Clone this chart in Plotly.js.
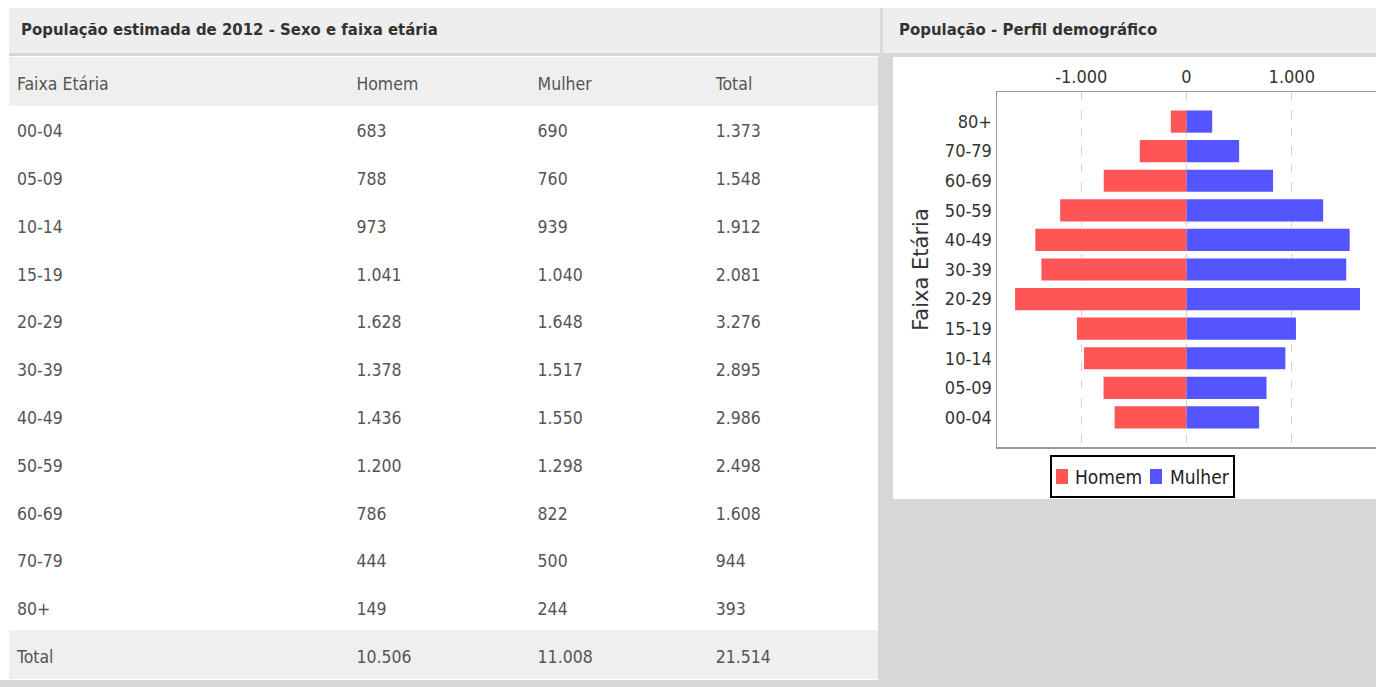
<!DOCTYPE html>
<html lang="pt-BR">
<head>
<meta charset="utf-8">
<title>População estimada de 2012 - Sexo e faixa etária</title>
<script src="https://cdn.plot.ly/plotly-3.0.1.min.js"></script>
<style>
  html, body { margin: 0; padding: 0; background: #ffffff; }
  #painel { width: 1376px; height: 687px; }
</style>
</head>
<body>
<div id="painel"></div>
<script>
// Faixas etárias (de baixo para cima na pirâmide)
const AGE_GROUPS = ['00-04', '05-09', '10-14', '15-19', '20-29', '30-39', '40-49', '50-59', '60-69', '70-79', '80+'];
// População por sexo
const HOMEM = [683, 788, 973, 1041, 1628, 1378, 1436, 1200, 786, 444, 149];
const MULHER = [690, 760, 939, 1040, 1648, 1517, 1550, 1298, 822, 500, 244];
const TOTAL = [1373, 1548, 1912, 2081, 3276, 2895, 2986, 2498, 1608, 944, 393];
// Linha de totais da tabela
const TOTAL_ROW_LABEL = 'Total';
const TOTAL_HOMEM = 10506;
const TOTAL_MULHER = 11008;
const TOTAL_GERAL = 21514;
// Cabeçalhos
const TABLE_HEADERS = ['Faixa Etária', 'Homem', 'Mulher', 'Total'];
const SERIES_NAMES = ['Homem', 'Mulher'];
// Eixo horizontal da pirâmide
const TICK_VALUES = [-1000, 0, 1000];
const TICK_LABELS = ['-1.000', '0', '1.000'];

const TITLE_TABLE = 'População estimada de 2012 - Sexo e faixa etária';
const TITLE_CHART = 'População - Perfil demográfico';

const COLOR_HOMEM = '#ff5555';
const COLOR_MULHER = '#5555ff';

const W = 1376, H = 687;
const px = v => v / W;          // pixel -> fração horizontal do papel
const py = v => 1 - v / H;      // pixel -> fração vertical do papel

// separador de milhar no padrão brasileiro
const fmt = n => String(n).replace(/\B(?=(\d{3})+(?!\d))/g, '.');

function rect(x0, y0, x1, y1, fill, line) {
  return {
    type: 'rect', xref: 'paper', yref: 'paper', layer: 'below',
    x0: px(x0), x1: px(x1), y0: py(y1), y1: py(y0),
    fillcolor: fill,
    line: line || { width: 0 }
  };
}

const rowFill = AGE_GROUPS.map(() => '#ffffff').concat(['#efefef']);
const tableFont = { family: 'DejaVu Sans Condensed', size: 17.5, color: '#555555' };

const tableTrace = {
  type: 'table',
  domain: { x: [px(9), px(878)], y: [py(680), py(57.5)] },
  columnwidth: [339, 181, 178, 170],
  header: {
    values: TABLE_HEADERS,
    align: 'left',
    height: 47.5,
    fill: { color: '#efefef' },
    line: { color: '#efefef', width: 1 },
    font: tableFont
  },
  cells: {
    values: [
      AGE_GROUPS.concat([TOTAL_ROW_LABEL]),
      HOMEM.map(fmt).concat([fmt(TOTAL_HOMEM)]),
      MULHER.map(fmt).concat([fmt(TOTAL_MULHER)]),
      TOTAL.map(fmt).concat([fmt(TOTAL_GERAL)])
    ],
    align: 'left',
    height: 47.8,
    fill: { color: [rowFill, rowFill, rowFill, rowFill] },
    line: { color: [rowFill, rowFill, rowFill, rowFill], width: 1 },
    font: tableFont
  }
};

const homemTrace = {
  type: 'bar', orientation: 'h', name: SERIES_NAMES[0],
  y: AGE_GROUPS, x: HOMEM.map(v => -v),
  marker: { color: COLOR_HOMEM, line: { width: 0 } },
  hoverinfo: 'skip'
};
const mulherTrace = {
  type: 'bar', orientation: 'h', name: SERIES_NAMES[1],
  y: AGE_GROUPS, x: MULHER,
  marker: { color: COLOR_MULHER, line: { width: 0 } },
  hoverinfo: 'skip'
};

const shapes = [
  // fundo cinza atrás do painel do gráfico e rodapé
  rect(878, 53, 1376, 687, '#d8d8d8'),
  rect(0, 680, 1376, 687, '#d8d8d8'),
  // cabeçalhos dos painéis
  rect(9, 8, 880, 53, '#eeeeee'),
  rect(880, 8, 883, 56, '#dadada'),
  rect(883, 8, 1376, 53, '#eeeeee'),
  rect(9, 53, 880, 56, '#d6d6d6'),
  rect(883, 53, 1376, 56, '#d6d6d6'),
  // área branca do gráfico
  rect(893, 57, 1376, 499, '#ffffff'),
  // legenda
  rect(1051, 456, 1234, 497, '#ffffff', { color: '#000000', width: 2 }),
  rect(1056, 469, 1068, 484, COLOR_HOMEM),
  rect(1150, 469, 1162, 484, COLOR_MULHER)
];

const titleFont = { family: 'DejaVu Sans Condensed', size: 16.6, color: '#333333', weight: 'bold' };
const legendFont = { family: 'DejaVu Sans Condensed', size: 19, color: '#222222' };

const annotations = [
  {
    text: TITLE_TABLE, xref: 'paper', yref: 'paper', x: px(19), y: py(30),
    xanchor: 'left', yanchor: 'middle', showarrow: false, font: titleFont
  },
  {
    text: TITLE_CHART, xref: 'paper', yref: 'paper', x: px(897), y: py(30),
    xanchor: 'left', yanchor: 'middle', showarrow: false, font: titleFont
  },
  {
    text: SERIES_NAMES[0], xref: 'paper', yref: 'paper', x: px(1073), y: py(477),
    xanchor: 'left', yanchor: 'middle', showarrow: false, font: legendFont
  },
  {
    text: SERIES_NAMES[1], xref: 'paper', yref: 'paper', x: px(1168), y: py(477),
    xanchor: 'left', yanchor: 'middle', showarrow: false, font: legendFont
  }
];

const layout = {
  width: W, height: H,
  margin: { l: 0, r: 0, t: 0, b: 0, pad: 0 },
  paper_bgcolor: '#ffffff',
  plot_bgcolor: 'rgba(0,0,0,0)',
  showlegend: false,
  barmode: 'relative',
  bargap: 0.25,
  font: { family: 'DejaVu Sans Condensed', color: '#333333' },
  xaxis: {
    domain: [px(997), 1],
    range: [-1800, 1800],
    side: 'top',
    tickvals: TICK_VALUES,
    ticktext: TICK_LABELS,
    tickfont: { family: 'DejaVu Sans Condensed', size: 18, color: '#333333' },
    ticks: '',
    showgrid: true,
    gridcolor: '#d4d4d4',
    griddash: 'dash',
    gridwidth: 1,
    zeroline: false,
    showline: true,
    mirror: true,
    linecolor: '#9a9a9a',
    linewidth: 1.5,
    fixedrange: true
  },
  yaxis: {
    domain: [py(447), py(92)],
    type: 'category',
    categoryorder: 'array',
    categoryarray: AGE_GROUPS,
    range: [-1, 11],
    tickfont: { family: 'DejaVu Sans Condensed', size: 18, color: '#333333' },
    ticks: '',
    showgrid: false,
    zeroline: false,
    showline: true,
    linecolor: '#9a9a9a',
    linewidth: 1.5,
    title: {
      text: 'Faixa Etária',
      font: { family: 'DejaVu Sans', size: 21, color: '#333333' },
      standoff: 10
    },
    fixedrange: true
  },
  shapes: shapes,
  annotations: annotations
};

// O texto das células da tabela é ancorado no topo; desce-o para ficar centrado na linha.
const CELL_TEXT_SHIFT = 11;

Plotly.newPlot('painel', [tableTrace, homemTrace, mulherTrace], layout, {
  displayModeBar: false, staticPlot: true
}).then(gd => {
  gd.querySelectorAll('.table .cell-text-holder').forEach(el => {
    const t = el.getAttribute('transform') || '';
    el.setAttribute('transform', t + ' translate(0,' + CELL_TEXT_SHIFT + ')');
  });
});
</script>
</body>
</html>
